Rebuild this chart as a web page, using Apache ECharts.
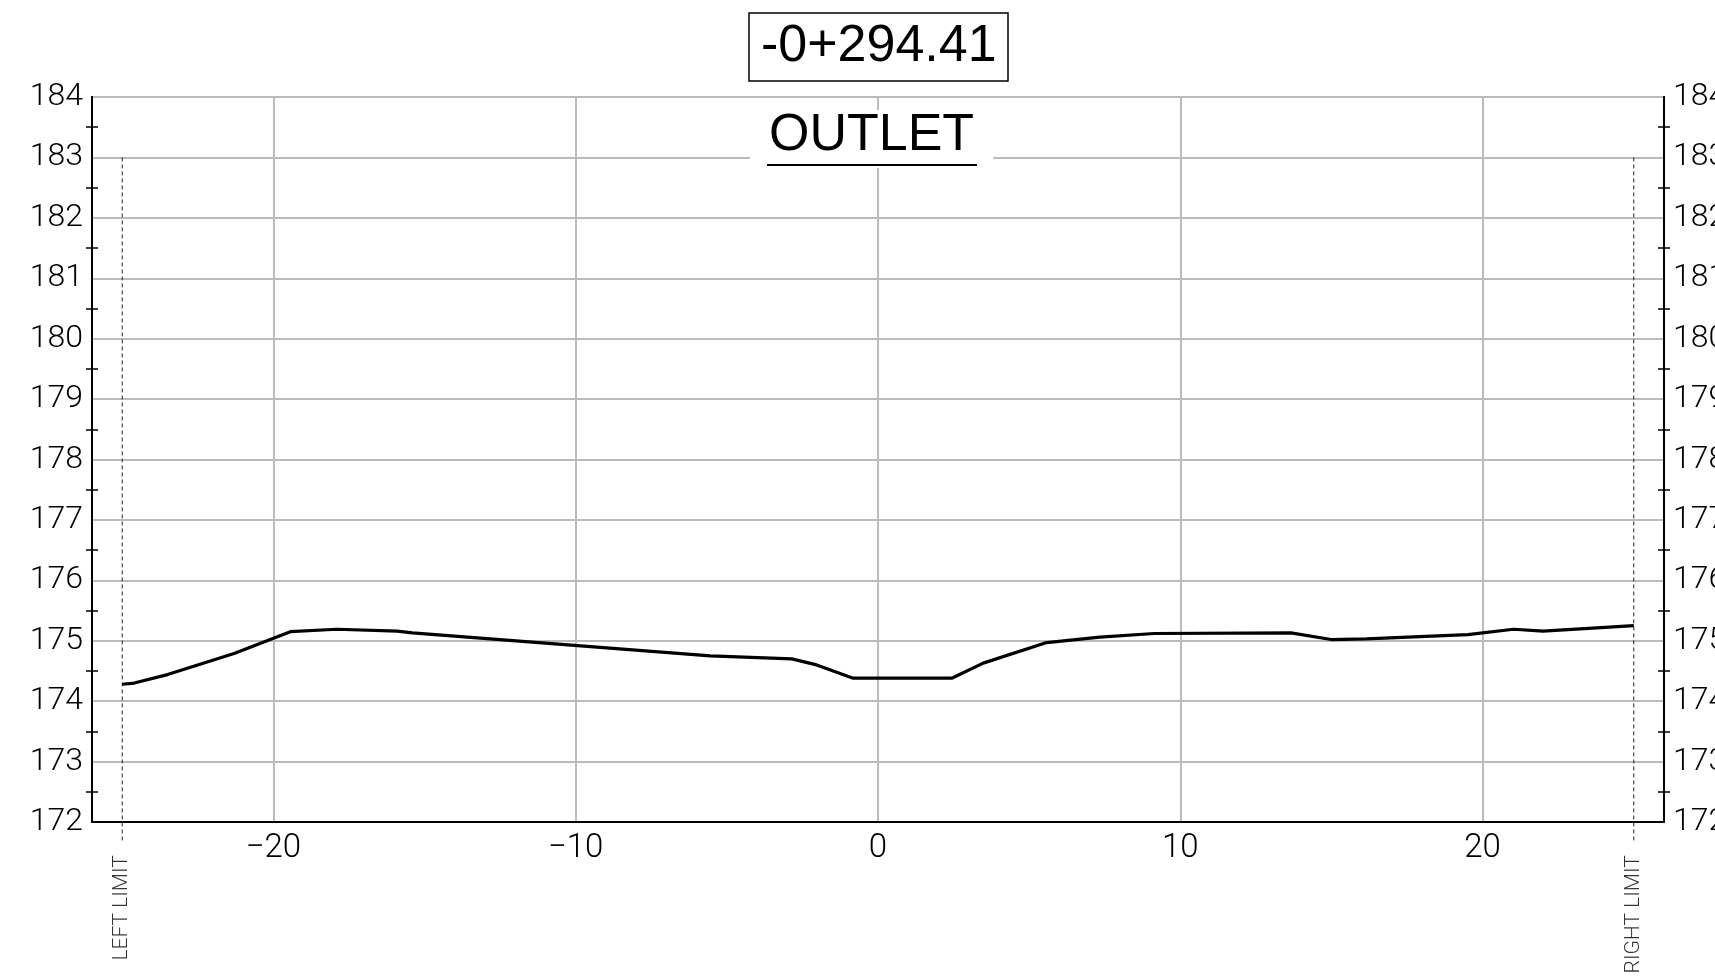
<!DOCTYPE html>
<html>
<head>
<meta charset="utf-8">
<script src="https://cdn.jsdelivr.net/npm/echarts@6/dist/echarts.min.js"></script>
<style>
html,body{margin:0;padding:0;background:#fff;overflow:hidden;}
#chart{width:1715px;height:977px;}
</style>
</head>
<body>
<div id="chart"></div>
<script>
// ---- data ----
const stationLabel = '-0+294.41';
const sectionName = 'OUTLET';
const offsets = [-25, -24.6, -23.5, -21.3, -19.44, -17.9, -15.9, -15.4, -9.19, -5.55, -2.85, -2.03, -0.82, 2.44, 3.48, 5.58, 7.34, 9.14, 13.66, 14.99, 16.15, 19.51, 21.02, 22.0, 25];
const elevations = [174.28, 174.30, 174.44, 174.79, 175.15, 175.19, 175.16, 175.13, 174.89, 174.75, 174.70, 174.60, 174.38, 174.38, 174.63, 174.97, 175.06, 175.12, 175.13, 175.02, 175.03, 175.10, 175.19, 175.16, 175.25];
const xTicks = [-20, -10, 0, 10, 20];
const leftLimit = -25;
const rightLimit = 25;
const limitTop = 183;
const limitBottom = 171.65;
const limitLabelY = 171.45;
const limitNames = ['LEFT LIMIT', 'RIGHT LIMIT'];
const yMin = 172, yMax = 184;
const xMin = -26, xMax = 26;

const chart = echarts.init(document.getElementById('chart'));
const thinFont = 'Roboto';
const gridColor = '#bbbbbb';

function yAxisBase(pos, withLabels, inside, withSplit) {
  return {
    type: 'value', position: pos, offset: 0, min: yMin, max: yMax, interval: 1,
    axisLine: { show: true, onZero: false, lineStyle: { color: '#000', width: 2 } },
    axisTick: { show: false, inside: inside },
    minorTick: { show: true, splitNumber: 2, length: 6, lineStyle: { color: '#000', width: 1.5 } },
    axisLabel: { show: withLabels, fontSize: 32, color: '#000', margin: 9, fontFamily: thinFont, fontWeight: 300 },
    splitLine: { show: withSplit, lineStyle: { color: gridColor, width: 2 } },
    minorSplitLine: { show: false }
  };
}

const profile = offsets.map((x, i) => [x, elevations[i]]);

chart.setOption({
  animation: false,
  backgroundColor: '#fff',
  title: [
    { text: stationLabel, left: 749, top: 13, padding: [4, 12, 4, 12],
      borderColor: '#000', borderWidth: 1.5, backgroundColor: '#fff',
      textStyle: { fontFamily: 'Liberation Sans', fontSize: 52, fontWeight: 'normal', color: '#000', lineHeight: 60 } },
    { text: sectionName, left: 750, top: 110, padding: [0, 19, 6, 19],
      backgroundColor: '#fff',
      textStyle: { fontFamily: 'Liberation Sans', fontSize: 52, fontWeight: 'normal', color: '#000', lineHeight: 52 } }
  ],
  graphic: [
    { type: 'line', shape: { x1: 767, y1: 165, x2: 977, y2: 165 }, style: { stroke: '#000', lineWidth: 2 }, z: 100 }
  ],
  grid: { left: 92, right: 51, top: 97, bottom: 155, outerBoundsMode: 'none', containLabel: false,
    show: true, borderColor: '#000', borderWidth: 2, backgroundColor: 'transparent' },
  xAxis: {
    type: 'value', min: xMin, max: xMax,
    axisLine: { show: true, onZero: false, lineStyle: { color: '#000', width: 2 } },
    axisTick: { show: false, customValues: xTicks },
    axisLabel: { customValues: xTicks, fontSize: 33, color: '#000', margin: 10, fontFamily: thinFont, fontWeight: 300,
      formatter: v => (v < 0 ? '\u2212' + Math.abs(v) : String(v)) },
    splitLine: { show: true, lineStyle: { color: gridColor, width: 2 } }
  },
  yAxis: [
    yAxisBase('left', true, false, true),
    yAxisBase('left', false, true, false),
    yAxisBase('right', true, false, false),
    yAxisBase('right', false, true, false)
  ],
  series: [
    { type: 'line', data: profile, symbol: 'none', lineStyle: { color: '#000', width: 3.2 }, z: 5 },
    { type: 'line', data: [[leftLimit, limitTop], [leftLimit, limitBottom]], symbol: 'none', clip: false,
      lineStyle: { color: '#222', width: 1, type: [4, 3] }, z: 4 },
    { type: 'line', data: [[rightLimit, limitTop], [rightLimit, limitBottom]], symbol: 'none', clip: false,
      lineStyle: { color: '#222', width: 1, type: [4, 3] }, z: 4 },
    { type: 'scatter', clip: false, symbolSize: 0,
      data: [[leftLimit, limitLabelY, limitNames[0]], [rightLimit, limitLabelY, limitNames[1]]],
      label: { show: true, formatter: p => p.value[2], rotate: 90, position: 'inside', align: 'right', verticalAlign: 'middle',
        fontSize: 21, color: '#000', fontFamily: thinFont, fontWeight: 300 } }
  ]
});
</script>
</body>
</html>
